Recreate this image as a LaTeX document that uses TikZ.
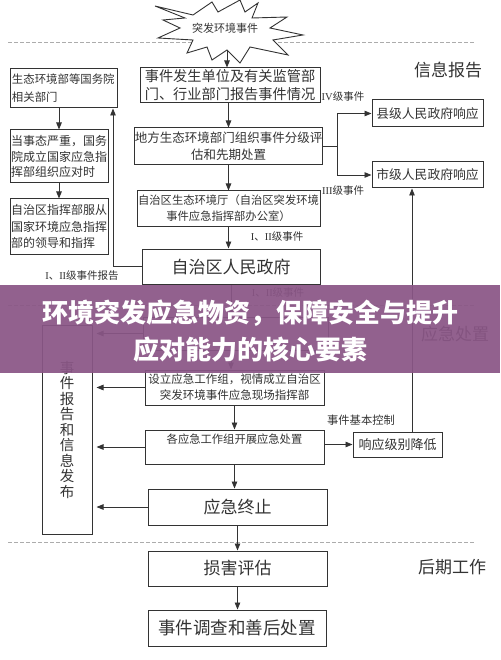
\documentclass[tikz,border=0pt]{standalone}
\usepackage{fontspec}
\setmainfont{Noto Sans CJK SC}
\newfontfamily\lat{Liberation Serif}
\usetikzlibrary{arrows.meta}
\definecolor{ln}{HTML}{333333}
\definecolor{band}{RGB}{138,86,134}
\tikzset{
 box/.style={draw=ln, line width=1pt, fill=white, inner sep=0pt, text=ln},
 arr/.style={draw=ln, line width=0.9pt, -{Triangle[length=7pt,width=5.5pt]}},
 lnk/.style={draw=ln, line width=0.9pt},
 lbl/.style={text=ln, inner sep=0pt},
 sep/.style={draw=gray!65, line width=1pt, dash pattern=on 4pt off 2pt},
}
\begin{document}
\begin{tikzpicture}[x=1pt,y=-1pt]
\useasboundingbox (0,0) rectangle (500,660);
\fill[white] (0,0) rectangle (500,660);
% separators
\draw[sep] (8,43) -- (475,43);
\draw[sep] (8,305) -- (475,305);
\draw[sep] (8,542) -- (475,542);
% burst
\draw[lnk, fill=white] (155,6) -- (193,15) -- (212,2) -- (218,12) -- (240,0) -- (245,12) -- (258,3) -- (252,18) -- (287,17) -- (270,28) -- (303,35) -- (273,40) -- (288,55) -- (250,47) -- (240,63) -- (227,50) -- (212,60) -- (207,47) -- (187,53) -- (193,40) -- (158,38) -- (180,28) -- (163,20) -- (185,18) -- cycle;
\node[lbl, font=\fontsize{11}{13}\selectfont] (burst) at (225,28) {突发环境事件};
\coordinate (bb) at (227,50);
% center column
\node[box, minimum width=180pt, minimum height=35pt, align=center, font=\fontsize{14.2}{18}\selectfont] (b1) at (230,85.5) {事件发生单位及有关监管部\\门、行业部门报告事件情况};
\node[box, minimum width=179pt, minimum height=37pt, align=center, font=\fontsize{12.5}{17}\selectfont] (b2) at (228.5,146.5) {地方生态环境部门组织事件分级评\\估和先期处置};
\node[box, minimum width=183pt, minimum height=35pt, align=center, font=\fontsize{11.3}{16}\selectfont] (b3) at (228.5,208.5) {自治区生态环境厅（自治区突发环境\\事件应急指挥部办公室）};
\node[box, minimum width=178pt, minimum height=35pt, font=\fontsize{17}{20}\selectfont] (gov) at (231,266.5) {自治区人民政府};
\node[box, minimum width=185pt, minimum height=33pt] (hid) at (235.5,333.5) {};
\node[box, minimum width=179pt, minimum height=35pt, align=center, font=\fontsize{11.5}{16}\selectfont] (set) at (234.5,387.5) {设立应急工作组，视情成立自治区\\突发环境事件应急现场指挥部};
\node[box, minimum width=179pt, minimum height=34pt, align=center, font=\fontsize{11.3}{17}\selectfont] (each) at (234.5,447) {各应急工作组开展应急处置\\\mbox{}};
\node[box, minimum width=179pt, minimum height=36pt, font=\fontsize{17}{20}\selectfont] (end) at (237.5,507) {应急终止};
\node[box, minimum width=179pt, minimum height=35pt, font=\fontsize{17}{20}\selectfont] (dmg) at (237.5,568.5) {损害评估};
\node[box, minimum width=178pt, minimum height=36pt, font=\fontsize{17.5}{20}\selectfont] (inv) at (237,628) {事件调查和善后处置};
% right column
\node[box, minimum width=111pt, minimum height=27pt, font=\fontsize{12.8}{15}\selectfont] (county) at (427.5,113.5) {县级人民政府响应};
\node[box, minimum width=111pt, minimum height=26pt, font=\fontsize{12.8}{15}\selectfont] (city) at (427.5,175) {市级人民政府响应};
\node[box, minimum width=89pt, minimum height=25pt, font=\fontsize{13}{15}\selectfont] (lower) at (397.5,444.5) {响应级别降低};
% left column
\node[box, minimum width=107pt, minimum height=39pt, text width=103pt, align=left, font=\fontsize{11.4}{18}\selectfont] (L1) at (63.5,88.5) {生态环境部等国务院\\相关部门};
\node[box, minimum width=98pt, minimum height=53pt, text width=96pt, align=left, font=\fontsize{12}{15.5}\selectfont] (L2) at (59,156.5) {当事态严重，国务\\院成立国家应急指\\挥部组织应对时};
\node[box, minimum width=98pt, minimum height=55pt, text width=96pt, align=left, font=\fontsize{12}{16.5}\selectfont] (L3) at (59,226.5) {自治区指挥部服从\\国家环境应急指挥\\部的领导和指挥};
\node[box, minimum width=50pt, minimum height=209pt, align=center, font=\fontsize{14.5}{15.5}\selectfont] (big) at (67,429.5) {事\\件\\报\\告\\和\\信\\息\\发\\布};
% side labels
\node[lbl, font=\fontsize{17}{20}\selectfont] (t1) at (448,70) {信息报告};
\node[lbl, font=\fontsize{17}{20}\selectfont] (t2) at (455,334) {应急处置};
\node[lbl, font=\fontsize{17}{20}\selectfont] (t3) at (452,567) {后期工作};
% connector labels
\node[lbl, font=\fontsize{10.5}{12}\selectfont] (l4) at (343,97) {{\lat IV}级事件};
\node[lbl, font=\fontsize{10.5}{12}\selectfont] (l3) at (343,191) {{\lat III}级事件};
\node[lbl, font=\fontsize{10.5}{12}\selectfont] (l12a) at (277,237) {{\lat I}、{\lat II}级事件};
\node[lbl, font=\fontsize{10.5}{12}\selectfont] (l12b) at (278,293) {{\lat I}、{\lat II}级事件};
\node[lbl, font=\fontsize{10.5}{12}\selectfont] (l12r) at (82,276) {{\lat I}、{\lat II}级事件报告};
\node[lbl, font=\fontsize{11.3}{13}\selectfont] (lc) at (361,420) {事件基本控制};
% vertical flow
\draw[arr] (bb) -- (bb |- b1.north);
\draw[arr] (b2.north |- b1.south) -- (b2.north);
\draw[arr] (b3.north |- b2.south) -- (b3.north);
\draw[arr] (b3.south) -- (b3.south |- gov.north);
\draw[arr] (gov.south) -- (gov.south |- hid.north);
\draw[arr] (gov.south |- hid.south) -- (gov.south |- set.north);
\draw[arr] (set.south) -- (set.south |- each.north);
\draw[arr] (each.south) -- (each.south |- end.north);
\draw[arr] (dmg.north |- end.south) -- (dmg.north);
\draw[arr] (dmg.south) -- (dmg.south |- inv.north);
% fork to county / city
\draw[lnk] (b2.east) -- ++(15,0) coordinate (fk);
\draw[arr] (fk) |- (county.west);
\draw[arr] (fk) |- (city.west);
% response lowered
\coordinate (vx) at (412,0);
\draw[arr] (lower.north -| vx) -- (city.south -| vx);
\draw[arr] (each.east |- lower.west) -- (lower.west);
% left column
\draw[arr] (L2.north |- L1.south) -- (L2.north);
\draw[arr] (L3.north |- L2.south) -- (L3.north);
\coordinate (ux) at (113,0);
\draw[arr] (gov.west) -| (L1.south -| ux);
% arrows into report box
\draw[arr, shorten >=4pt] (hid.west) -- (hid.west -| big.east);
\draw[arr, shorten >=4pt] (set.west) -- (set.west -| big.east);
\draw[arr, shorten >=4pt] (each.west) -- (each.west -| big.east);
\draw[arr, shorten >=4pt] (end.west) -- (end.west -| big.east);
% banner
\fill[band, fill opacity=0.93] (0,285) rectangle (500,373);
\node[text=white, inner sep=0pt, font=\fontsize{26}{30}\selectfont\bfseries] (h1) at (250,313) {环境突发应急物资，保障安全与提升};
\node[text=white, inner sep=0pt, font=\fontsize{26}{30}\selectfont\bfseries] (h2) at (250,350) {应对能力的核心要素};
\end{tikzpicture}
\end{document}
